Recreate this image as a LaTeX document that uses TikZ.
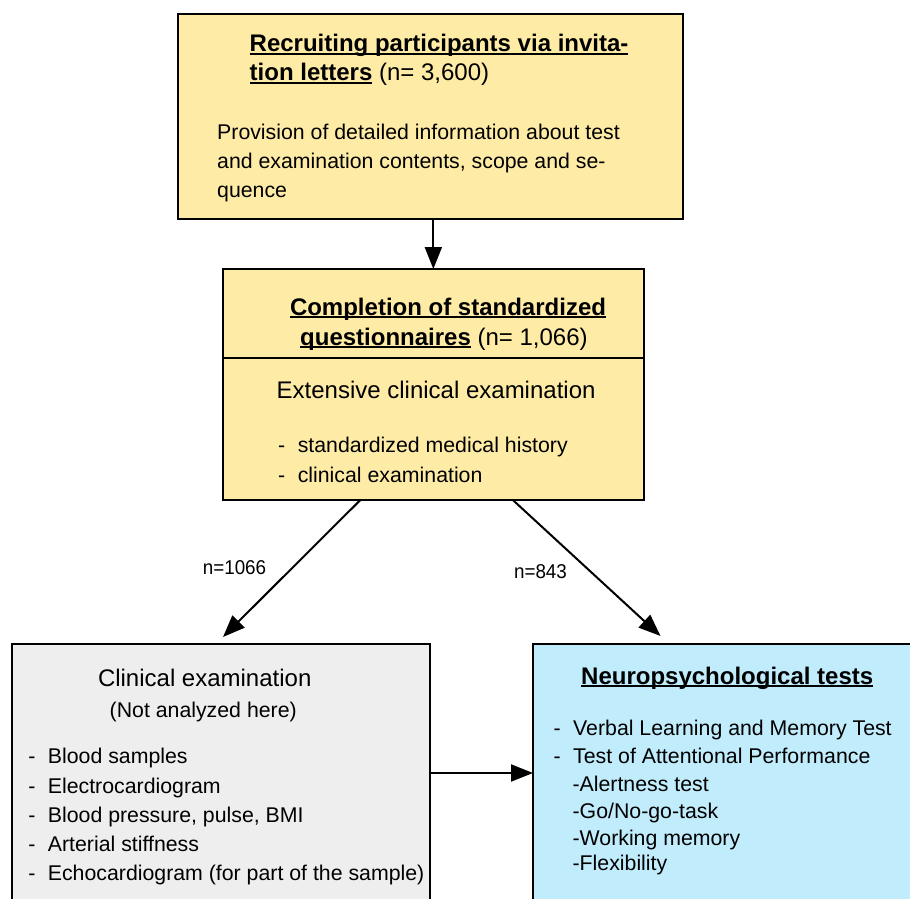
\documentclass[tikz,border=0pt]{standalone}
\usepackage{fontspec}
\setmainfont{Liberation Sans}
\newfontfamily\labelfont[FakeStretch=0.94]{Liberation Sans}
\usetikzlibrary{arrows.meta}
\definecolor{boxyellow}{RGB}{254,236,166}
\definecolor{boxgrey}{RGB}{238,238,238}
\definecolor{boxblue}{RGB}{192,236,252}
\newcommand\myul[1]{\setbox0\hbox{#1}\rlap{\rule[-2.6pt]{\wd0}{1.2pt}}\box0\relax}
\begin{document}
\begin{tikzpicture}[x=1pt,y=-1pt,
  boxshape/.style={draw=black, line width=2pt, inner sep=0pt, outer sep=0pt},
  ybox/.style={boxshape, fill=boxyellow},
  gbox/.style={boxshape, fill=boxgrey},
  bbox/.style={boxshape, fill=boxblue},
  txt/.style={anchor=base west, inner sep=0pt, font=\fontsize{21.3}{25}\selectfont},
  big/.style={txt, font=\fontsize{24}{28}\selectfont},
  bigb/.style={txt, font=\fontsize{24}{28}\selectfont\bfseries},
  bullet/.style={txt, execute at begin node={\llap{-\hspace{12.5pt}}}},
  lbl/.style={font=\labelfont\fontsize{20}{24}\selectfont, inner sep=0pt},
  arr/.style={line width=2pt, -{Triangle[length=22pt,width=17pt]}}
]
\useasboundingbox (0,0) rectangle (910,899);
\clip (0,0) rectangle (910,899);

% boxes
\node[ybox, minimum width=505pt, minimum height=205pt] (recruit) at (430.8,116.5) {};
\node[ybox, minimum width=421.3pt, minimum height=231pt] (compl) at (433.35,384.5) {};
\node[gbox, minimum width=418.3pt, minimum height=280pt] (clin) at (220.85,784) {};
\node[bbox, minimum width=400pt, minimum height=280pt] (neuro) at (733,784) {};
\draw[line width=2pt] ([yshift=-88.7pt]compl.north west) -- ([yshift=-88.7pt]compl.north east);

% connectors
\coordinate (tipL) at (223,637);
\coordinate (tipR) at (660.5,636);
\coordinate (hline) at (0,773);
\draw[arr] (recruit.south -| compl.north) -- (compl.north);
\draw[arr] ([xshift=-73pt]compl.south) -- (tipL);
\draw[arr] ([xshift=79.5pt]compl.south) -- (tipR);
\draw[arr] (clin.east |- hline) -- (neuro.west |- hline);

\node[lbl] (l1066) at (234.5,568) {n=1066};
\node[lbl] (l843) at (540.5,571.5) {n=843};

% box 1 text
\node[bigb] (r1) at (249.5,52) {\myul{Recruiting participants via invita-}};
\node[big] (r2) at (249.5,81) {\myul{\textbf{tion letters}} (n= 3,600)};
\node[txt] (p1) at (217,139) {Provision of detailed information about test};
\node[txt] (p2) at (217,168) {and examination contents, scope and se-};
\node[txt] (p3) at (217,197) {quence};

% box 2 text
\node[bigb] (c1) at (289.8,315) {\myul{Completion of standardized}};
\node[big] (c2) at (300,345) {\myul{\textbf{questionnaires}} (n= 1,066)};
\node[big] (e1) at (276.5,398) {Extensive clinical examination};
\node[bullet] (e2) at (297.6,452.7) {standardized medical history};
\node[bullet] (e3) at (297.6,482.7) {clinical examination};

% left box text
\node[big] (k1) at (97.8,686) {Clinical examination};
\node[txt] (k2) at (109.5,717) {(Not analyzed here)};
\node[bullet] (k3) at (47.7,763.3) {Blood samples};
\node[bullet] (k4) at (47.7,793.3) {Electrocardiogram};
\node[bullet] (k5) at (47.7,822.7) {Blood pressure, pulse, BMI};
\node[bullet] (k6) at (47.7,851.7) {Arterial stiffness};
\node[bullet] (k7) at (47.7,880.7) {Echocardiogram (for part of the sample)};

% right box text
\node[bigb] (n1) at (581,684) {\myul{Neuropsychological tests}};
\node[bullet] (n2) at (573,735) {Verbal Learning and Memory Test};
\node[bullet] (n3) at (573,763.3) {Test of Attentional Performance};
\node[txt] (n4) at (572.4,791.7) {-Alertness test};
\node[txt] (n5) at (572.4,818.3) {-Go/No-go-task};
\node[txt] (n6) at (572.4,845) {-Working memory};
\node[txt] (n7) at (572.4,870.7) {-Flexibility};
\end{tikzpicture}
\end{document}
